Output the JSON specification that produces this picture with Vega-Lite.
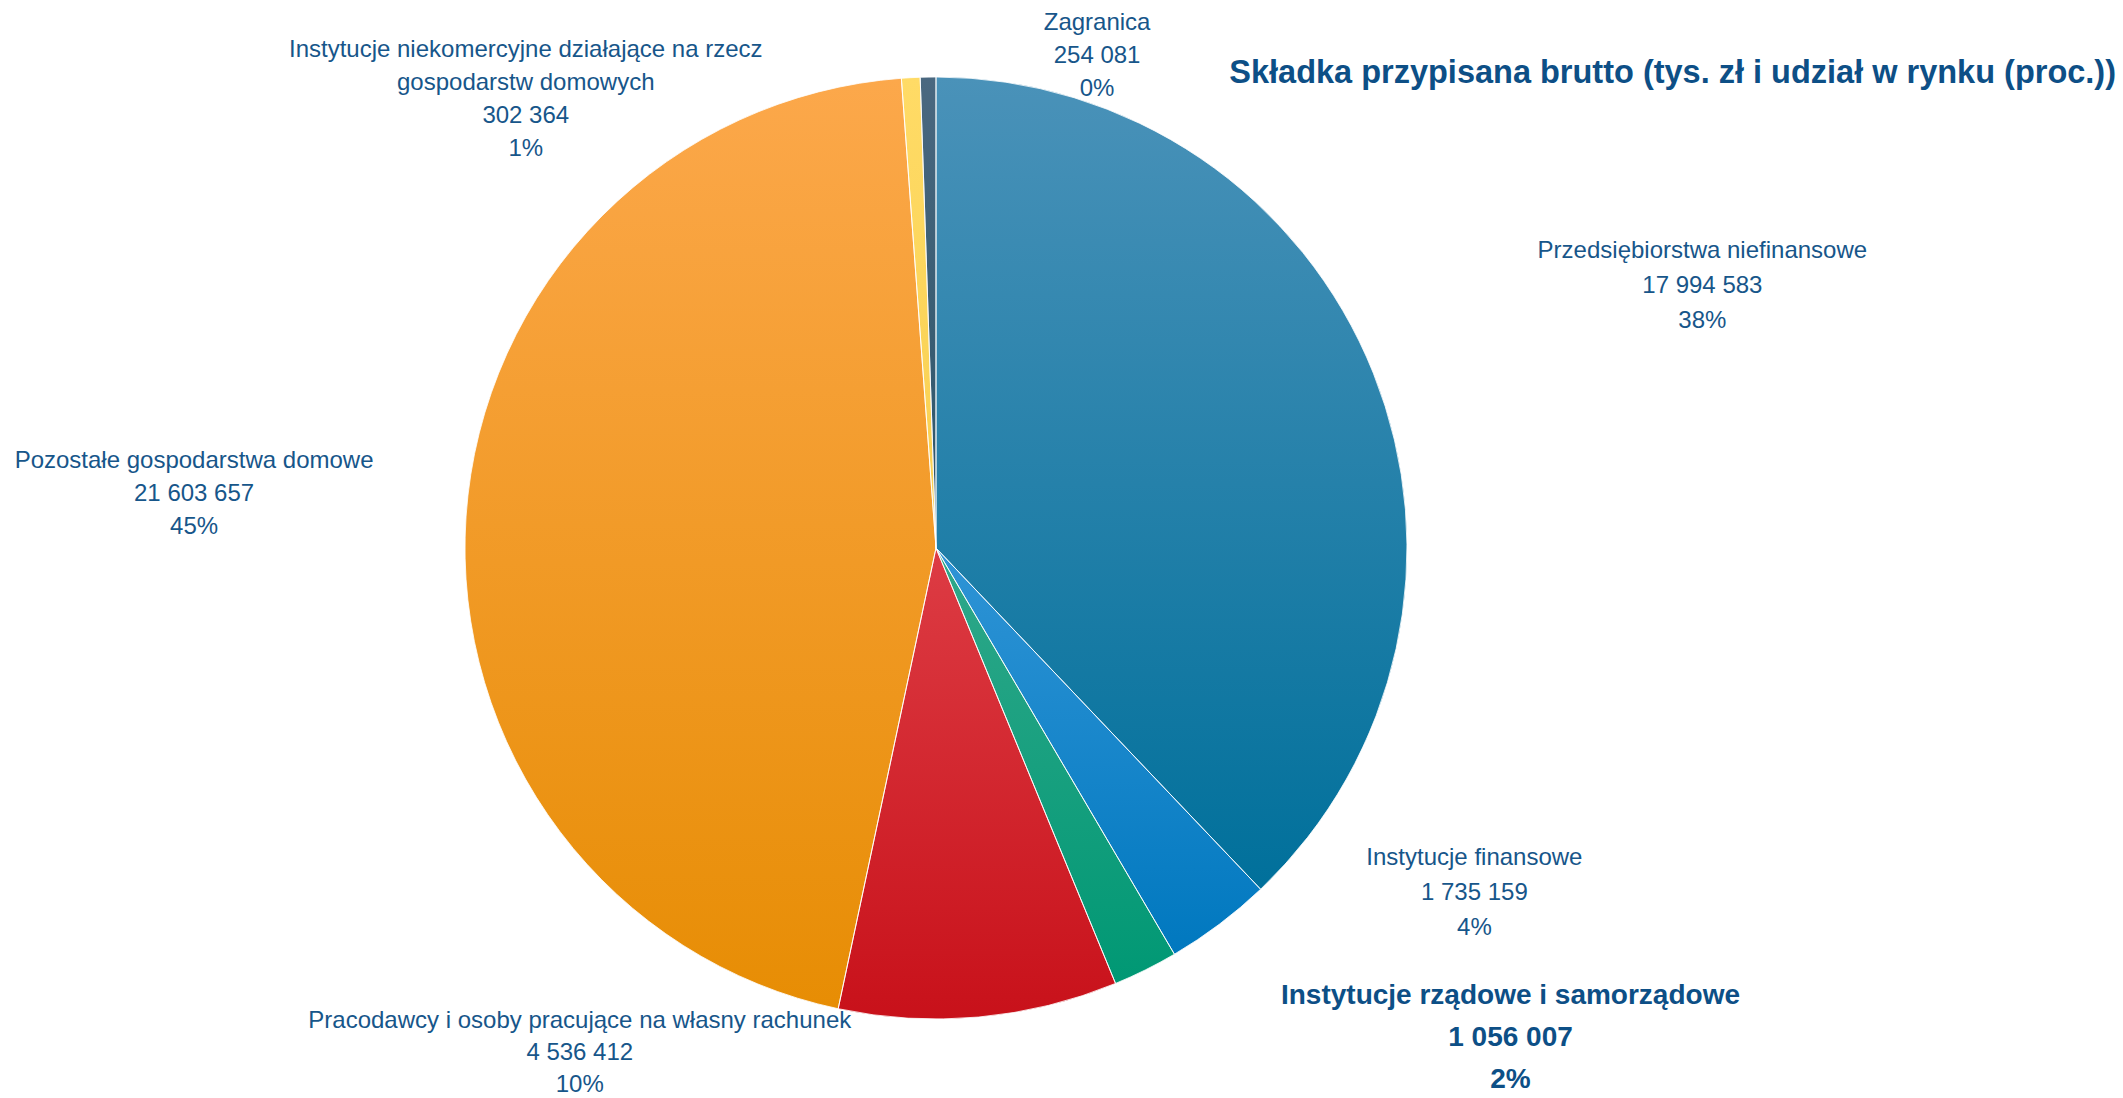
{
  "$schema": "https://vega.github.io/schema/vega-lite/v6.json",
  "width": 1872,
  "height": 1096,
  "autosize": {"type": "none"},
  "padding": {"left": 0, "top": 0, "right": 251, "bottom": 2},
  "background": "white",
  "title": {
    "text": "Składka przypisana brutto (tys. zł i udział w rynku (proc.))",
    "anchor": "end",
    "dx": 244,
    "offset": -146,
    "font": "Liberation Sans",
    "fontSize": 32.5,
    "fontWeight": "bold",
    "color": "#0d4f86"
  },
  "data": {
    "values": [
      {"k": "Przedsiębiorstwa niefinansowe", "value": 17994583, "order": 1, "lines": ["Przedsiębiorstwa niefinansowe", "17 994 583", "38%"]},
      {"k": "Instytucje finansowe", "value": 1735159, "order": 2, "lines": ["Instytucje finansowe", "1 735 159", "4%"]},
      {"k": "Instytucje rządowe i samorządowe", "value": 1056007, "order": 3, "lines": ["Instytucje rządowe i samorządowe", "1 056 007", "2%"]},
      {"k": "Pracodawcy i osoby pracujące na własny rachunek", "value": 4536412, "order": 4, "lines": ["Pracodawcy i osoby pracujące na własny rachunek", "4 536 412", "10%"]},
      {"k": "Pozostałe gospodarstwa domowe", "value": 21603657, "order": 5, "lines": ["Pozostałe gospodarstwa domowe", "21 603 657", "45%"]},
      {"k": "Instytucje niekomercyjne działające na rzecz gospodarstw domowych", "value": 302364, "order": 6, "lines": ["Instytucje niekomercyjne  działające na rzecz", "gospodarstw domowych", "302 364", "1%"]},
      {"k": "Zagranica", "value": 254081, "order": 7, "lines": ["Zagranica", "254 081", "0%"]}
    ]
  },
  "encoding": {
    "theta": {"field": "value", "type": "quantitative", "stack": true},
    "order": {"field": "order", "type": "quantitative"},
    "detail": {"field": "k", "type": "nominal"}
  },
  "layer": [
    {
      "mark": {"type": "arc", "outerRadius": 471, "strokeWidth": 0, "fill": {"gradient": "linear", "x1": 0, "y1": 0, "x2": 0, "y2": 1, "stops": [{"offset": 0, "color": "#4a92b9"}, {"offset": 1, "color": "#00709b"}]}},
      "encoding": {"fillOpacity": {"condition": {"test": "datum.order === 1", "value": 1}, "value": 0}}
    },
    {
      "mark": {"type": "arc", "outerRadius": 471, "strokeWidth": 0, "fill": {"gradient": "linear", "x1": 0, "y1": 0, "x2": 0, "y2": 1, "stops": [{"offset": 0, "color": "#2f94d6"}, {"offset": 1, "color": "#0078bf"}]}},
      "encoding": {"fillOpacity": {"condition": {"test": "datum.order === 2", "value": 1}, "value": 0}}
    },
    {
      "mark": {"type": "arc", "outerRadius": 471, "strokeWidth": 0, "fill": {"gradient": "linear", "x1": 0, "y1": 0, "x2": 0, "y2": 1, "stops": [{"offset": 0, "color": "#30a88a"}, {"offset": 1, "color": "#009874"}]}},
      "encoding": {"fillOpacity": {"condition": {"test": "datum.order === 3", "value": 1}, "value": 0}}
    },
    {
      "mark": {"type": "arc", "outerRadius": 471, "strokeWidth": 0, "fill": {"gradient": "linear", "x1": 0, "y1": 0, "x2": 0, "y2": 1, "stops": [{"offset": 0, "color": "#dd3c44"}, {"offset": 1, "color": "#c8111a"}]}},
      "encoding": {"fillOpacity": {"condition": {"test": "datum.order === 4", "value": 1}, "value": 0}}
    },
    {
      "mark": {"type": "arc", "outerRadius": 471, "strokeWidth": 0, "fill": {"gradient": "linear", "x1": 0, "y1": 0, "x2": 0, "y2": 1, "stops": [{"offset": 0, "color": "#fca84b"}, {"offset": 1, "color": "#e78d04"}]}},
      "encoding": {"fillOpacity": {"condition": {"test": "datum.order === 5", "value": 1}, "value": 0}}
    },
    {
      "mark": {"type": "arc", "outerRadius": 471, "strokeWidth": 0, "fill": {"gradient": "linear", "x1": 0, "y1": 0, "x2": 0, "y2": 1, "stops": [{"offset": 0, "color": "#ffdb66"}, {"offset": 1, "color": "#f8cf50"}]}},
      "encoding": {"fillOpacity": {"condition": {"test": "datum.order === 6", "value": 1}, "value": 0}}
    },
    {
      "mark": {"type": "arc", "outerRadius": 471, "strokeWidth": 0, "fill": {"gradient": "linear", "x1": 0, "y1": 0, "x2": 0, "y2": 1, "stops": [{"offset": 0, "color": "#4a6880"}, {"offset": 1, "color": "#2b5468"}]}},
      "encoding": {"fillOpacity": {"condition": {"test": "datum.order === 7", "value": 1}, "value": 0}}
    },
    {
      "mark": {"type": "arc", "outerRadius": 471, "filled": false, "stroke": "#ffffff", "strokeWidth": 1, "strokeOpacity": 0.8},
      "encoding": {}
    },
    {
      "mark": {"type": "text", "radius": 471, "dx": 329, "dy": -122, "font": "Liberation Sans", "fontSize": 24, "lineHeight": 35, "color": "#17568a", "align": "center", "baseline": "middle"},
      "encoding": {"text": {"condition": {"test": "datum.order === 1", "field": "lines"}, "value": ""}}
    },
    {
      "mark": {"type": "text", "radius": 471, "dx": 255, "dy": -66, "font": "Liberation Sans", "fontSize": 24, "lineHeight": 35, "color": "#17568a", "align": "center", "baseline": "middle"},
      "encoding": {"text": {"condition": {"test": "datum.order === 2", "field": "lines"}, "value": ""}}
    },
    {
      "mark": {"type": "text", "radius": 471, "dx": 365, "dy": 26, "font": "Liberation Sans", "fontSize": 28, "fontWeight": "bold", "lineHeight": 42, "color": "#0d4f86", "align": "center", "baseline": "middle"},
      "encoding": {"text": {"condition": {"test": "datum.order === 3", "field": "lines"}, "value": ""}}
    },
    {
      "mark": {"type": "text", "radius": 471, "dx": -399, "dy": 4, "font": "Liberation Sans", "fontSize": 24, "lineHeight": 32, "color": "#17568a", "align": "center", "baseline": "middle"},
      "encoding": {"text": {"condition": {"test": "datum.order === 4", "field": "lines"}, "value": ""}}
    },
    {
      "mark": {"type": "text", "radius": 471, "dx": -272, "dy": -55, "font": "Liberation Sans", "fontSize": 24, "lineHeight": 33, "color": "#17568a", "align": "center", "baseline": "middle"},
      "encoding": {"text": {"condition": {"test": "datum.order === 5", "field": "lines"}, "value": ""}}
    },
    {
      "mark": {"type": "text", "radius": 471, "dx": -385, "dy": -28, "font": "Liberation Sans", "fontSize": 24, "lineHeight": 33, "color": "#17568a", "align": "center", "baseline": "middle"},
      "encoding": {"text": {"condition": {"test": "datum.order === 6", "field": "lines"}, "value": ""}}
    },
    {
      "mark": {"type": "text", "radius": 471, "dx": 169, "dy": -54, "font": "Liberation Sans", "fontSize": 24, "lineHeight": 33, "color": "#17568a", "align": "center", "baseline": "middle"},
      "encoding": {"text": {"condition": {"test": "datum.order === 7", "field": "lines"}, "value": ""}}
    }
  ],
  "config": {"view": {"stroke": null}}
}
